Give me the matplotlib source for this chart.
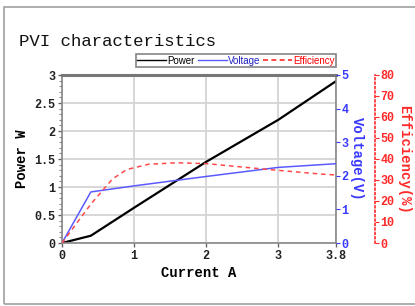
import matplotlib.pyplot as plt
from matplotlib.lines import Line2D
from matplotlib.patches import Rectangle

# Current (A) sample points and measured series
current = [0, 0.4, 1.0, 2.0, 3.0, 3.8]
power = [0, 0.13, 0.63, 1.45, 2.2, 2.89]
voltage = [0, 1.52, 1.70, 1.98, 2.25, 2.36]

eff_current = [0, 0.4, 0.7, 0.9, 1.2, 1.6, 2.0, 2.4, 2.8, 3.2, 3.6, 3.8]
efficiency = [0, 18.5, 30.5, 35.0, 37.5, 38.2, 37.8, 36.5, 35.2, 34.0, 32.8, 32.4]

x_ticks = [0, 1, 2, 3, 3.8]
x_labels = ["0", "1", "2", "3", "3.8"]
p_ticks = [0, 0.5, 1, 1.5, 2, 2.5, 3]
p_labels = ["0", "0.5", "1", "1.5", "2", "2.5", "3"]
v_ticks = [0, 1, 2, 3, 4, 5]
e_ticks = [0, 10, 20, 30, 40, 50, 60, 70, 80]

mono = "Liberation Mono"
blue = "#3a3aff"
red = "#ff2a2a"

fig = plt.figure(figsize=(4.15, 3.06), dpi=100)

# outer window frame
fig.patches.append(Rectangle((4 / 415, 2 / 306), 1.2, 297 / 306, transform=fig.transFigure,
                             fill=False, edgecolor="#a0a0a0", linewidth=1.2))

ax = fig.add_axes([62 / 415, 63 / 306, 274 / 415, 168 / 306])
ax2 = ax.twinx()
ax3 = ax.twinx()

ax.plot(current, power, color="black", lw=1.6)
ax2.plot(current, voltage, color="#5a5aff", lw=1.1)
ax3.plot(eff_current, efficiency, color="#ff4a4a", lw=1.1, ls=(0, (3, 2.5)))

for name, s in ax3.spines.items():
    s.set_visible(name == "right")
ax3.spines["right"].set_position(("axes", 1.142))
ax3.spines["right"].set_color(red)
ax3.spines["right"].set_linestyle(":")
ax3.spines["right"].set_linewidth(1.2)
for s in ax2.spines.values():
    s.set_visible(False)

ax.set_xlim(0, 3.8)
ax.set_ylim(0, 3)
ax2.set_ylim(0, 5)
ax3.set_ylim(0, 80)

tick_font = dict(family=mono, weight="bold", size=8.5)
ax.set_xticks(x_ticks, x_labels, **tick_font, color="#222222")
ax.set_yticks(p_ticks, p_labels, **tick_font, color="#222222")
ax.set_yticks([i / 10 for i in range(31)], minor=True)
ax2.set_yticks(v_ticks, [str(v) for v in v_ticks], **tick_font, color=blue)
ax3.set_yticks(e_ticks, [str(e) for e in e_ticks], **tick_font, color=red)

ax.grid(True, color="#d4d4d4", lw=1.3)
ax.set_axisbelow(True)

ax.tick_params(axis="both", length=3, width=1, color="#666666", pad=2)
ax.tick_params(axis="y", which="minor", length=2, width=0.8, color="#888888")
ax2.tick_params(axis="y", length=3, color=blue, pad=1)
ax3.tick_params(axis="y", length=3, color=red, pad=1)

for s in ["left", "bottom", "right"]:
    ax.spines[s].set_color("#888888")
    ax.spines[s].set_linewidth(1.2)
ax.spines["top"].set_color("#777777")
ax.spines["top"].set_linewidth(2.2)

ax.set_xlabel("Current A", family=mono, weight="bold", size=10, labelpad=3)
ax.set_ylabel("Power W", family=mono, weight="bold", size=10, labelpad=4)
ax2.set_ylabel("Voltage(V)", family=mono, weight="bold", size=10, color=blue,
               rotation=270, labelpad=11)
ax3.set_ylabel("Efficiency(%)", family=mono, weight="bold", size=10, color=red,
               rotation=270, labelpad=12)

fig.text(19 / 415, 1 - 42 / 306, "PVI characteristics", family=mono, size=12.5,
         va="center", ha="left", color="#111111")

handles = [Line2D([], [], color="black", lw=1),
           Line2D([], [], color="#5a5aff", lw=1),
           Line2D([], [], color="#ff2a2a", lw=1.2, ls=(0, (3, 2)))]
leg = fig.legend(handles, ["Power", "Voltage", "Efficiency"], ncol=3,
                 loc="center", bbox_to_anchor=(236 / 415, 1 - 60.5 / 306),
                 prop=dict(family="Liberation Sans", size=7),
                 frameon=True, fancybox=False, edgecolor="#666666",
                 handlelength=3.0, handletextpad=0.1, columnspacing=0.3,
                 borderpad=0.15, borderaxespad=0)
leg.get_frame().set_linewidth(1.2)
for txt, c in zip(leg.get_texts(), ["black", "#2020c0", "red"]):
    txt.set_color(c)

fig.savefig("out.png", dpi=100)
